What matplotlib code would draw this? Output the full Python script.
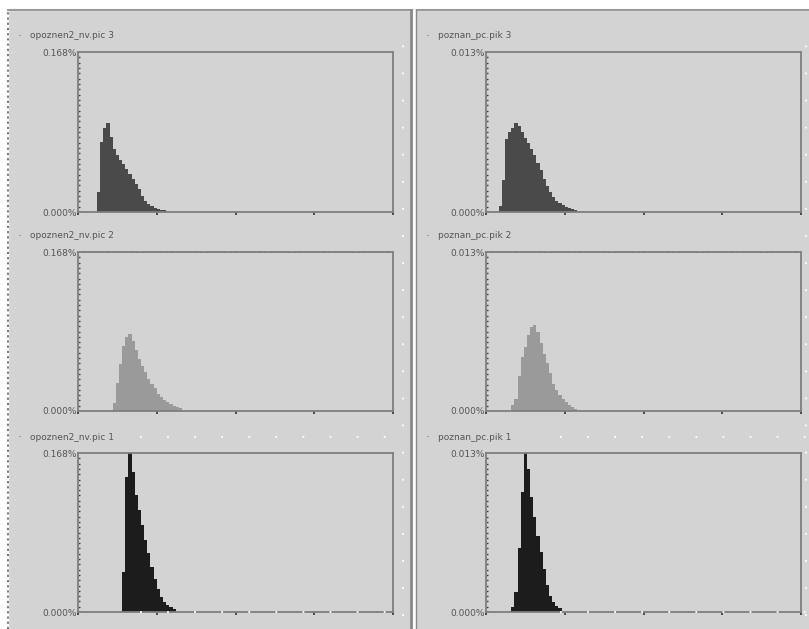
import numpy as np
import matplotlib
matplotlib.use('Agg')
import matplotlib.pyplot as plt
from matplotlib.patches import Rectangle
from matplotlib.lines import Line2D

W, H = 809, 629

# panel titles
titles_left = ['opoznen2_nv.pic 3', 'opoznen2_nv.pic 2', 'opoznen2_nv.pic 1']
titles_right = ['poznan_pc.pik 3', 'poznan_pc.pik 2', 'poznan_pc.pik 1']

ymax_left = 0.168
ymax_right = 0.013
ytop_left = '0.168%'
ytop_right = '0.013%'
ybottom = '0.000%'

# histogram heights (percent), first bin index for each
pic3_left_start = 6
pic3_left = [0.021, 0.074, 0.088, 0.093, 0.079, 0.066, 0.060, 0.055, 0.050, 0.045, 0.040,
             0.035, 0.029, 0.024, 0.017, 0.012, 0.008, 0.006, 0.004, 0.003, 0.0025, 0.0017]
pic3_right_start = 4
pic3_right = [0.0005, 0.0026, 0.0059, 0.0065, 0.0068, 0.0072, 0.0070, 0.0065, 0.0060, 0.0056,
              0.0051, 0.0046, 0.0040, 0.0034, 0.0027, 0.0021, 0.0016, 0.0012, 0.0009, 0.0007,
              0.00055, 0.00043, 0.00033, 0.00023, 0.00016]
pic2_left_start = 11
pic2_left = [0.0084, 0.030, 0.050, 0.069, 0.078, 0.081, 0.074, 0.064, 0.055, 0.048, 0.041,
             0.034, 0.029, 0.024, 0.018, 0.015, 0.012, 0.0097, 0.0076, 0.0054, 0.0040, 0.0030]
pic2_right_start = 8
pic2_right = [0.0005, 0.0010, 0.0029, 0.0044, 0.0052, 0.0062, 0.0069, 0.0070, 0.0065, 0.0056,
              0.0047, 0.0039, 0.0031, 0.0022, 0.0017, 0.0013, 0.0010, 0.0007, 0.0005, 0.00033, 0.0002]
pic1_left_start = 14
pic1_left = [0.042, 0.143, 0.168, 0.148, 0.124, 0.108, 0.092, 0.076, 0.062, 0.048, 0.035,
             0.024, 0.016, 0.011, 0.0076, 0.005, 0.003]
pic1_right_start = 8
pic1_right = [0.0004, 0.0016, 0.0052, 0.0098, 0.013, 0.0117, 0.0094, 0.0078, 0.0062, 0.0049,
              0.0035, 0.0022, 0.0013, 0.0008, 0.0005, 0.0003]

bar_colors = ['#4a4a4a', '#9a9a9a', '#1c1c1c']
bg = '#d3d3d3'
txt = '#555555'

fig = plt.figure(figsize=(W / 100, H / 100), dpi=100, facecolor=bg)


def px_rect(x0, y0, x1, y1):
    return [x0 / W, 1 - y1 / H, (x1 - x0) / W, (y1 - y0) / H]


# white strip at top and column separator
fig.patches.append(Rectangle((0, 1 - 10 / H), 1, 10 / H, transform=fig.transFigure,
                             color='white', zorder=0))
fig.patches.append(Rectangle((0, 0), 8 / W, 1, transform=fig.transFigure,
                             color='white', zorder=0))
fig.lines.append(Line2D([8 / W, 8 / W], [0, 1 - 10 / H], transform=fig.transFigure,
                        color='#7a7a7a', lw=1.5, ls=(0, (1, 1.5))))
fig.lines.append(Line2D([8 / W, 809 / W], [1 - 10 / H, 1 - 10 / H], transform=fig.transFigure,
                        color='#9a9a9a', lw=1.5))
fig.lines.append(Line2D([411 / W, 411 / W], [0, 1 - 10 / H], transform=fig.transFigure,
                        color='#8a8a8a', lw=2))
fig.lines.append(Line2D([414 / W, 414 / W], [0, 1 - 10 / H], transform=fig.transFigure,
                        color='white', lw=2))
fig.lines.append(Line2D([416 / W, 416 / W], [0, 1 - 10 / H], transform=fig.transFigure,
                        color='#8a8a8a', lw=1))
# white grid dots of the editor
for xd in [403, 806]:
    fig.lines.append(Line2D([xd / W, xd / W], [0.02, 1 - 20 / H], transform=fig.transFigure,
                            color='white', lw=1.3, ls=(0, (1, 14))))
for yd in [437, 612]:
    fig.lines.append(Line2D([140 / W, 400 / W], [1 - yd / H, 1 - yd / H], transform=fig.transFigure,
                            color='white', lw=1.3, ls=(0, (1, 14))))
    fig.lines.append(Line2D([560 / W, 806 / W], [1 - yd / H, 1 - yd / H], transform=fig.transFigure,
                            color='white', lw=1.3, ls=(0, (1, 14))))

rows_y = [(52, 212), (252, 411), (453, 612)]
cols_x = [(78, 393), (486, 801)]
series = [
    [(pic3_left_start, pic3_left), (pic3_right_start, pic3_right)],
    [(pic2_left_start, pic2_left), (pic2_right_start, pic2_right)],
    [(pic1_left_start, pic1_left), (pic1_right_start, pic1_right)],
]

for r, (y0, y1) in enumerate(rows_y):
    for c, (x0, x1) in enumerate(cols_x):
        ax = fig.add_axes(px_rect(x0, y0, x1, y1))
        ax.set_facecolor(bg)
        start, vals = series[r][c]
        ymax = ymax_left if c == 0 else ymax_right
        xs = start + np.arange(len(vals))
        ax.bar(xs, vals, width=1.0, align='edge', color=bar_colors[r], linewidth=0)
        ax.set_xlim(0, 100)
        ax.set_ylim(0, ymax)
        for s in ax.spines.values():
            s.set_color('#7e7e7e')
            s.set_linewidth(1.3)
        if r == 1:
            ax.axhline(ymax, color='#333333', lw=1.2, ls=(0, (1, 2.5)))
        ax.set_xticks([0, 25, 50, 75, 100])
        ax.set_xticklabels([])
        ax.tick_params(axis='x', direction='out', length=2.5, width=1.2, color='#333333')
        ax.set_yticks([0, ymax])
        ax.set_yticklabels([ybottom, ytop_left if c == 0 else ytop_right],
                           fontsize=6.5, color=txt)
        ax.tick_params(axis='y', length=0, pad=1)
        ax.set_yticks(np.linspace(0, ymax, 31), minor=True)
        ax.tick_params(axis='y', which='minor', direction='in', length=1.5, width=1,
                       color='#444444')

        tx = 30 if c == 0 else 438
        ty = [36, 236, 437][r]
        fig.text(tx / W, 1 - ty / H, (titles_left if c == 0 else titles_right)[r],
                 fontsize=6.5, color=txt, va='center', ha='left')
        fig.text((tx - 12) / W, 1 - ty / H, '\u00b7', fontsize=8, color=txt,
                 va='center', ha='left')

fig.savefig('out.png', dpi=100, facecolor=bg)
